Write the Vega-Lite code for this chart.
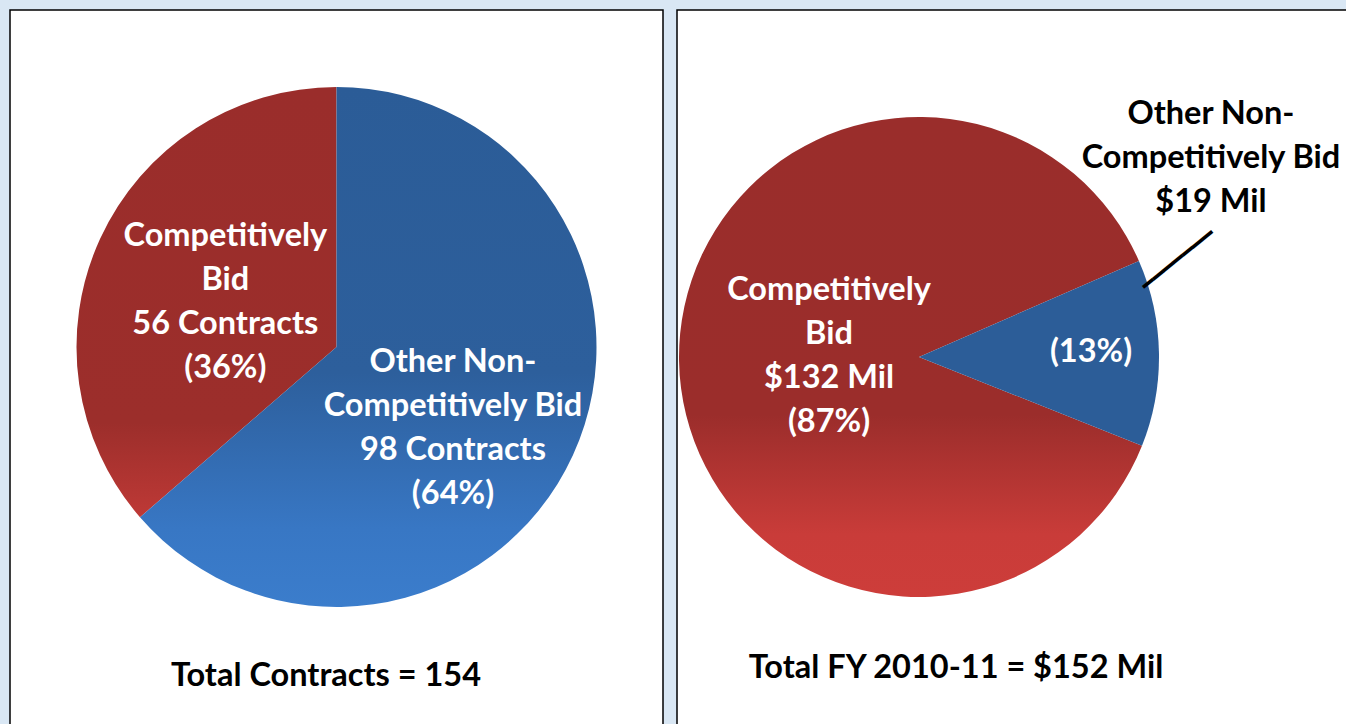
{
  "$schema": "https://vega.github.io/schema/vega-lite/v6.json",
  "background": "#d9e7f4",
  "padding": {"left": 9, "top": 9, "right": 0, "bottom": 0},
  "spacing": 14,
  "bounds": "flush",
  "config": {
    "view": {"fill": "white", "stroke": "black", "strokeWidth": 1.5},
    "style": {"cell": {"fill": "white", "stroke": "black", "strokeWidth": 1.5}},
    "text": {"font": "Lato", "fontWeight": "bold", "fontSize": 32.5, "lineHeight": 44, "baseline": "middle", "align": "center", "lineBreak": "\n"}
  },
  "datasets": {
    "contracts": [
      {"category": "Competitively Bid", "contracts": 56, "label": "Competitively\nBid\n56 Contracts\n(36%)"},
      {"category": "Other Non-Competitively Bid", "contracts": 98, "label": "Other Non-\nCompetitively Bid\n98 Contracts\n(64%)"}
    ],
    "dollars": [
      {"category": "Competitively Bid", "amount": 132, "inner": "Competitively\nBid\n$132 Mil\n(87%)", "outer": ""},
      {"category": "Other Non-Competitively Bid", "amount": 19, "inner": "(13%)", "outer": "Other Non-\nCompetitively Bid\n$19 Mil"}
    ]
  },
  "hconcat": [
    {
      "width": 653,
      "height": 715,
      "view": {"fill": "white", "stroke": "black", "strokeWidth": 1.5},
      "data": {"name": "contracts"},
      "layer": [
        {
          "mark": {"type": "arc", "outerRadius": 260, "yOffset": -20.5},
          "encoding": {
            "theta": {"field": "contracts", "type": "quantitative", "stack": true},
            "order": {"field": "category", "sort": "descending"},
            "detail": {"field": "category"},
            "fill": {
              "condition": {"test": "datum.category === 'Competitively Bid'", "value": {"gradient": "linear", "x1": 0, "y1": 0, "x2": 0, "y2": 1, "stops": [{"offset": 0, "color": "#9a2d2b"}, {"offset": 0.78, "color": "#9c2e2b"}, {"offset": 1, "color": "#be3936"}]}},
              "value": {"gradient": "linear", "x1": 0, "y1": 0, "x2": 0, "y2": 1, "stops": [{"offset": 0, "color": "#2b5c97"}, {"offset": 0.55, "color": "#2d5f9c"}, {"offset": 0.85, "color": "#3877c4"}, {"offset": 1, "color": "#3b7dcc"}]}
            }
          }
        },
        {
          "mark": {"type": "text", "radius": 120, "yOffset": -20.5, "dx": -2, "dy": -61, "color": "white"},
          "encoding": {
            "theta": {"field": "contracts", "type": "quantitative", "stack": true},
            "order": {"field": "category", "sort": "descending"},
            "detail": {"field": "category"},
            "text": {"condition": {"test": "datum.category !== 'Competitively Bid'", "value": ""}, "field": "label"}
          }
        },
        {
          "mark": {"type": "text", "radius": 142, "yOffset": -20.5, "dx": -12.7, "dy": -44, "color": "white"},
          "encoding": {
            "theta": {"field": "contracts", "type": "quantitative", "stack": true},
            "order": {"field": "category", "sort": "descending"},
            "detail": {"field": "category"},
            "text": {"condition": {"test": "datum.category === 'Competitively Bid'", "value": ""}, "field": "label"}
          }
        },
        {
          "data": {"values": [{"total": "Total Contracts = 154"}]},
          "mark": {"type": "text", "dx": -10.5, "dy": 308.5, "color": "black"},
          "encoding": {"text": {"field": "total"}}
        }
      ]
    },
    {
      "width": 670,
      "height": 715,
      "view": {"fill": "white", "stroke": "black", "strokeWidth": 1.5},
      "data": {"name": "dollars"},
      "layer": [
        {
          "mark": {"type": "arc", "outerRadius": 240, "xOffset": -93, "yOffset": -10.5},
          "encoding": {
            "theta": {"field": "amount", "type": "quantitative", "stack": true, "scale": {"range": [1.1589, 7.4421]}},
            "order": {"field": "category", "sort": "descending"},
            "detail": {"field": "category"},
            "fill": {
              "condition": {"test": "datum.category === 'Competitively Bid'", "value": {"gradient": "linear", "x1": 0, "y1": 0, "x2": 0, "y2": 1, "stops": [{"offset": 0, "color": "#9a2d2b"}, {"offset": 0.62, "color": "#9b2d2b"}, {"offset": 0.87, "color": "#c93c39"}, {"offset": 1, "color": "#cd3d3a"}]}},
              "value": "#2c5d98"
            }
          }
        },
        {
          "mark": {"type": "text", "radius": 90, "xOffset": -93, "yOffset": -10.5, "dy": -68, "color": "white"},
          "encoding": {
            "theta": {"field": "amount", "type": "quantitative", "stack": true, "scale": {"range": [1.1589, 7.4421]}},
            "order": {"field": "category", "sort": "descending"},
            "detail": {"field": "category"},
            "text": {"condition": {"test": "datum.category !== 'Competitively Bid'", "value": ""}, "field": "inner"}
          }
        },
        {
          "mark": {"type": "text", "radius": 172, "xOffset": -93, "yOffset": -10.5, "dy": -2, "color": "white"},
          "encoding": {
            "theta": {"field": "amount", "type": "quantitative", "stack": true, "scale": {"range": [1.1589, 7.4421]}},
            "order": {"field": "category", "sort": "descending"},
            "detail": {"field": "category"},
            "text": {"condition": {"test": "datum.category === 'Competitively Bid'", "value": ""}, "field": "inner"}
          }
        },
        {
          "mark": {"type": "text", "radius": 292, "xOffset": -93, "yOffset": -10.5, "dy": -238, "color": "black"},
          "encoding": {
            "theta": {"field": "amount", "type": "quantitative", "stack": true, "scale": {"range": [1.1589, 7.4421]}},
            "order": {"field": "category", "sort": "descending"},
            "detail": {"field": "category"},
            "text": {"field": "outer"}
          }
        },
        {
          "mark": {"type": "text", "radius": 259.5, "xOffset": -93, "yOffset": -10.5, "angle": 321, "dx": 58.2, "dy": -71.9, "color": "black", "font": "DejaVu Sans Mono", "fontWeight": "normal", "fontSize": 21},
          "encoding": {
            "theta": {"field": "amount", "type": "quantitative", "stack": true, "scale": {"range": [1.1589, 7.4421]}},
            "order": {"field": "category", "sort": "descending"},
            "detail": {"field": "category"},
            "text": {"condition": {"test": "datum.category === 'Competitively Bid'", "value": ""}, "value": "━━━━━━━"}
          }
        },
        {
          "data": {"values": [{"total": "Total FY 2010-11 = $152 Mil"}]},
          "mark": {"type": "text", "dx": -56, "dy": 300.5, "color": "black"},
          "encoding": {"text": {"field": "total"}}
        }
      ]
    }
  ]
}
